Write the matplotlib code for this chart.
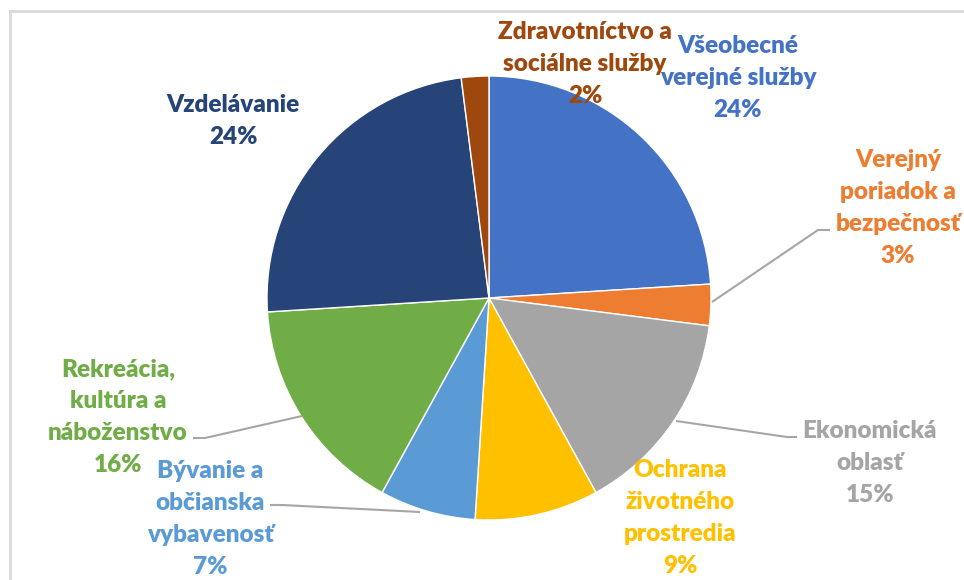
import matplotlib.pyplot as plt
from matplotlib.lines import Line2D

labels = [
    "Všeobecné\nverejné služby",
    "Verejný\nporiadok a\nbezpečnosť",
    "Ekonomická\noblasť",
    "Ochrana\nživotného\nprostredia",
    "Bývanie a\nobčianska\nvybavenosť",
    "Rekreácia,\nkultúra a\nnáboženstvo",
    "Vzdelávanie",
    "Zdravotníctvo a\nsociálne služby",
]
shares = [24, 3, 15, 9, 7, 16, 24, 2]
colors = ["#4472C4", "#ED7D31", "#A5A5A5", "#FFC000",
          "#5B9BD5", "#70AD47", "#264478", "#9E480E"]

# label centres in pixel coords (y from top)
label_pos = [(738, 78), (898, 208), (870, 463), (680, 518),
             (210, 519), (118, 417), (233, 121), (585, 64)]

# leader lines (pixel coords, y from top); None = no leader
leaders = [
    None,
    [(712, 302), (818, 230), (830, 230)],
    [(676, 421), (787, 437), (797, 437)],
    None,
    [(420, 512), (282, 505), (270, 505)],
    [(302, 416), (205, 438), (193, 438)],
    None,
    None,
]

W, H = 964, 580
fig = plt.figure(figsize=(W / 100, H / 100), dpi=100)
ax = fig.add_axes([0, 0, 1, 1])

cx, cy, r = 489, 298, 222
ax.pie(shares, colors=colors, startangle=90, counterclock=False,
       center=(cx, H - cy), radius=r,
       wedgeprops=dict(edgecolor="white", linewidth=1))
ax.set_xlim(0, W)
ax.set_ylim(0, H)
ax.set_aspect("equal")
ax.axis("off")

for pts in leaders:
    if pts is None:
        continue
    xs = [p[0] for p in pts]
    ys = [H - p[1] for p in pts]
    ax.plot(xs, ys, color="#A6A6A6", lw=1.5, solid_capstyle="butt", zorder=1)

for lab, s, c, (x, y) in zip(labels, shares, colors, label_pos):
    ax.text(x, H - y, f"{lab}\n{s}%", color=c, ha="center", va="center",
            fontsize=17.5, fontweight="heavy", family="Lato", linespacing=1.55)

# chart frame edges
fig.add_artist(Line2D([10, W], [H - 11, H - 11], transform=None,
                      color="#D9D9D9", lw=2))
fig.add_artist(Line2D([10, 10], [0, H - 11], transform=None,
                      color="#D9D9D9", lw=2))

fig.savefig("out.png", dpi=100)
